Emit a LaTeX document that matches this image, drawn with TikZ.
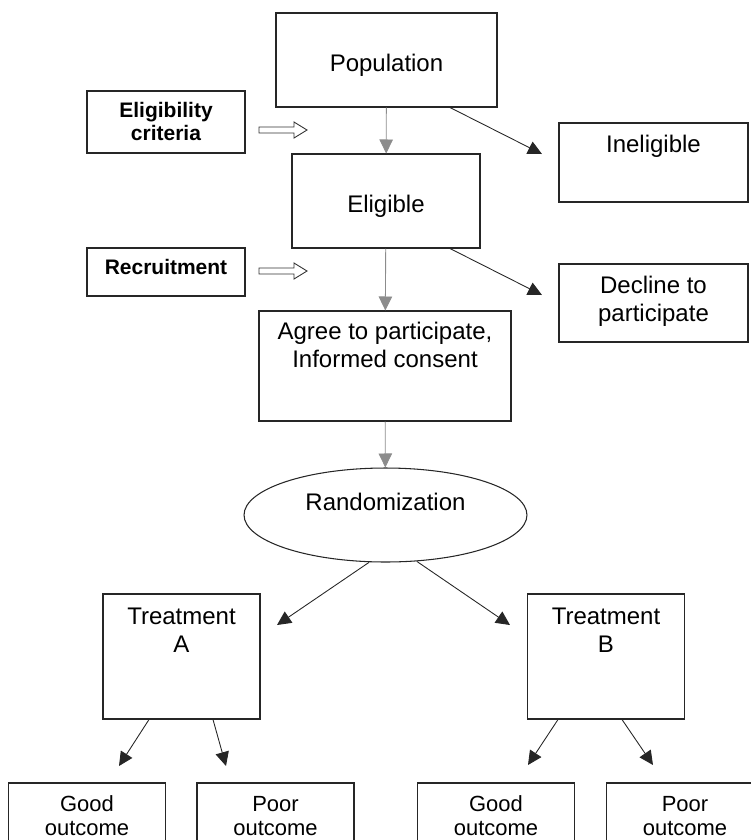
\documentclass[tikz,border=0pt]{standalone}
\usepackage{fontspec}
\setmainfont{Liberation Sans}
\usetikzlibrary{arrows.meta,shapes.geometric}

\begin{document}
\begin{tikzpicture}[x=0.02cm, y=-0.02cm,
    box/.style={draw=black!85, rectangle, line width=0.6pt, inner sep=0pt, align=center,
                font=\fontsize{13.66}{15.93}\selectfont},
    sidebox/.style={box, minimum width=3.16cm, font=\bfseries\fontsize{11.95}{13.09}\selectfont},
    outbox/.style={box, minimum width=3.14cm, text height=1.04cm, text depth=0.9cm,
                   font=\fontsize{12.5}{13.66}\selectfont},
    arr/.style={-{Triangle[length=0.28cm,width=0.27cm]}, line width=0.5pt, draw=black!85},
    down/.style={arr, draw=black!45},
    hollow/.style={draw=black!80, line width=0.5pt}]
    \clip (0,0) rectangle (751,840);

    \node[box, minimum width=4.42cm, text height=1.16cm, text depth=0.72cm] (pop) at (386.5,60) {Population};
    \node[box, minimum width=3.76cm, text height=1.16cm, text depth=0.72cm] (elig) at (386,201) {Eligible};
    \node[box, minimum width=3.78cm, text height=0.58cm, text depth=1.0cm] (inel) at (653.5,162.5) {Ineligible};
    \node[box, minimum width=3.78cm, text height=1.14cm, text depth=0.42cm] (decl) at (653.5,303) {Decline to\\participate};
    \node[box, minimum width=5.04cm, text height=1.12cm, text depth=1.08cm] (agree) at (385,366) {Agree to participate,\\Informed consent};
    \node[draw=black!85, ellipse, line width=0.6pt, inner sep=0pt, minimum width=5.66cm, minimum height=1.88cm,
          text height=0.4cm, text depth=0.6cm, font=\fontsize{13.66}{15.93}\selectfont] (rand) at (385.5,515) {Randomization};
    \node[box, minimum width=3.14cm, text height=1.16cm, text depth=1.34cm] (trA) at (181.5,656.5) {Treatment\\A};
    \node[box, minimum width=3.14cm, text height=1.16cm, text depth=1.34cm] (trB) at (606,656.5) {Treatment\\B};

    \node[outbox] (goodA) at (87,831.5) {Good\\outcome};
    \node[outbox] (poorA) at (275.5,831.5) {Poor\\outcome};
    \node[outbox] (goodB) at (496,831.5) {Good\\outcome};
    \node[outbox] (poorB) at (685,831.5) {Poor\\outcome};

    \node[sidebox, text height=0.98cm, text depth=0.26cm] (crit) at (166,122) {Eligibility\\criteria};
    \node[sidebox, text height=0.52cm, text depth=0.44cm] (recr) at (166,272) {Recruitment};

    \coordinate (inelin) at (542,154);
    \coordinate (declin) at (542,295);
    \coordinate (trAin) at (277,625);
    \coordinate (trBin) at (510,625);
    \coordinate (goodAin) at (119,766);
    \coordinate (poorAin) at (226,766);
    \coordinate (goodBin) at (528,765);
    \coordinate (poorBin) at (653,765);

    \draw[down] (pop) -- (elig);
    \draw[down] (elig) -- (agree);
    \draw[down] (agree) -- (rand);
    \draw[arr] ([xshift=1.27cm]pop.south) -- (inelin);
    \draw[arr] ([xshift=1.28cm]elig.south) -- (declin);
    \draw[arr] (rand.251) -- (trAin);
    \draw[arr] (rand.-56.7) -- (trBin);
    \draw[arr] ([xshift=-0.65cm]trA.south) -- (goodAin);
    \draw[arr] ([xshift=0.63cm]trA.south) -- (poorAin);
    \draw[arr] ([xshift=-0.96cm]trB.south) -- (goodBin);
    \draw[arr] ([xshift=0.32cm]trB.south) -- (poorBin);

    \foreach \y in {130,271}
        \draw[hollow] (259,\y-3) -- ++(35,0) -- ++(0,-5) -- ++(13,8) -- ++(-13,8) -- ++(0,-5) -- ++(-35,0) -- cycle;
\end{tikzpicture}
\end{document}
